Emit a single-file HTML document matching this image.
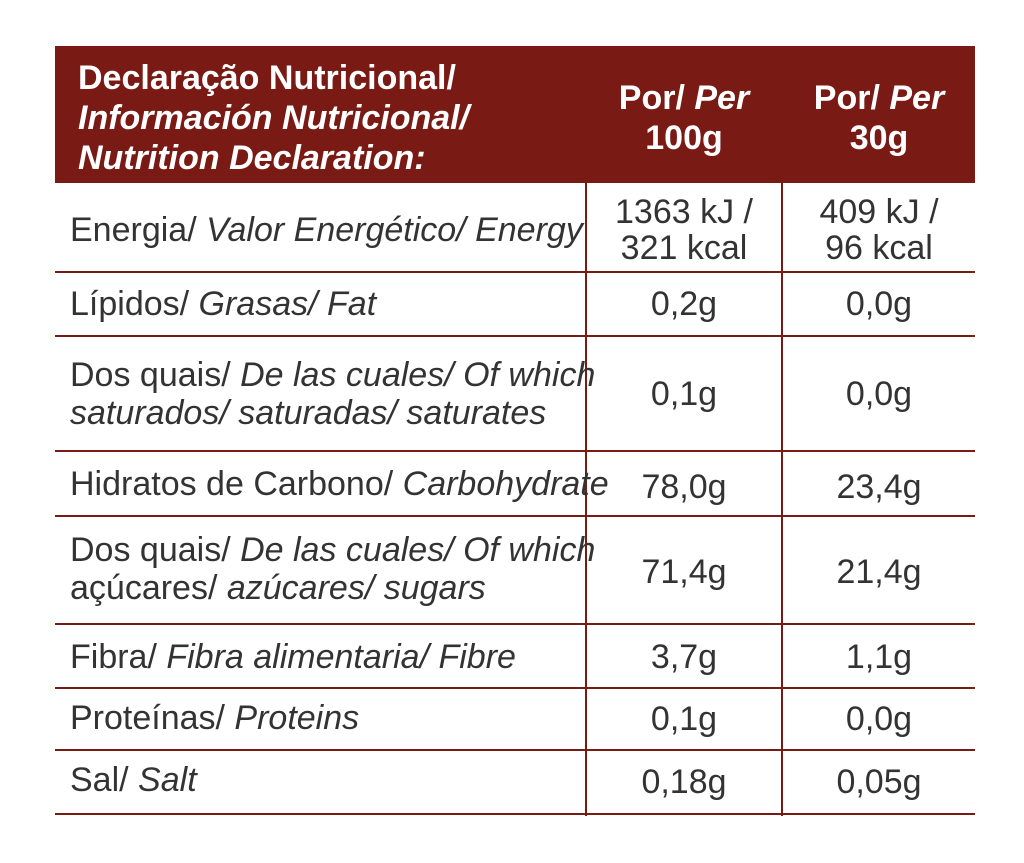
<!DOCTYPE html>
<html><head><meta charset="utf-8"><style>
body{margin:0;width:1024px;height:863px;background:#fff;position:relative;overflow:hidden;font-family:"Liberation Sans Narrow","Liberation Sans",sans-serif;color:#333}
.t{position:absolute;font-size:34px;line-height:38px;white-space:nowrap}
.h{color:#fff;font-weight:bold}
.c{text-align:center;width:190px}
.c2{left:589px}.c3{left:784px}
.hl{position:absolute;left:55px;width:920px;height:2px;background:#7a1a14}
.vl{position:absolute;width:2px;background:#7a1a14;top:182px;height:634px}
i{font-style:italic}
</style></head><body>
<div style="position:absolute;left:55px;top:46px;width:920px;height:137px;background:#7a1a14"></div>
<div class="t h" style="left:78px;top:58px;line-height:40px">Declaração Nutricional/<br><i>Información Nutricional/</i><br><i>Nutrition Declaration:</i></div>
<div class="t h c c2" style="top:78px;line-height:40px">Por/ <i>Per</i><br>100g</div>
<div class="t h c c3" style="top:78px;line-height:40px">Por/ <i>Per</i><br>30g</div>
<div class="vl" style="left:585px"></div>
<div class="vl" style="left:781px"></div>
<div class="hl" style="top:271px"></div>
<div class="hl" style="top:335px"></div>
<div class="hl" style="top:450px"></div>
<div class="hl" style="top:515px"></div>
<div class="hl" style="top:623px"></div>
<div class="hl" style="top:687px"></div>
<div class="hl" style="top:749px"></div>
<div class="hl" style="top:813px"></div>

<div class="t" style="left:70px;top:211px">Energia/ <i>Valor Energético/ Energy</i></div>
<div class="t c c2" style="top:194px;line-height:36px">1363 kJ /<br>321 kcal</div>
<div class="t c c3" style="top:194px;line-height:36px">409 kJ /<br>96 kcal</div>

<div class="t" style="left:70px;top:285px">Lípidos/ <i>Grasas/ Fat</i></div>
<div class="t c c2" style="top:285px">0,2g</div>
<div class="t c c3" style="top:285px">0,0g</div>

<div class="t" style="left:70px;top:356px">Dos quais/ <i>De las cuales/ Of which</i><br><i>saturados/ saturadas/ saturates</i></div>
<div class="t c c2" style="top:375px">0,1g</div>
<div class="t c c3" style="top:375px">0,0g</div>

<div class="t" style="left:70px;top:465px">Hidratos de Carbono/ <i>Carbohydrate</i></div>
<div class="t c c2" style="top:468px">78,0g</div>
<div class="t c c3" style="top:468px">23,4g</div>

<div class="t" style="left:70px;top:531px">Dos quais/ <i>De las cuales/ Of which</i><br>açúcares/ <i>azúcares/ sugars</i></div>
<div class="t c c2" style="top:553px">71,4g</div>
<div class="t c c3" style="top:553px">21,4g</div>

<div class="t" style="left:70px;top:638px">Fibra/ <i>Fibra alimentaria/ Fibre</i></div>
<div class="t c c2" style="top:638px">3,7g</div>
<div class="t c c3" style="top:638px">1,1g</div>

<div class="t" style="left:70px;top:699px">Proteínas/ <i>Proteins</i></div>
<div class="t c c2" style="top:700px">0,1g</div>
<div class="t c c3" style="top:700px">0,0g</div>

<div class="t" style="left:70px;top:761px">Sal/ <i>Salt</i></div>
<div class="t c c2" style="top:763px">0,18g</div>
<div class="t c c3" style="top:763px">0,05g</div>
</body></html>
